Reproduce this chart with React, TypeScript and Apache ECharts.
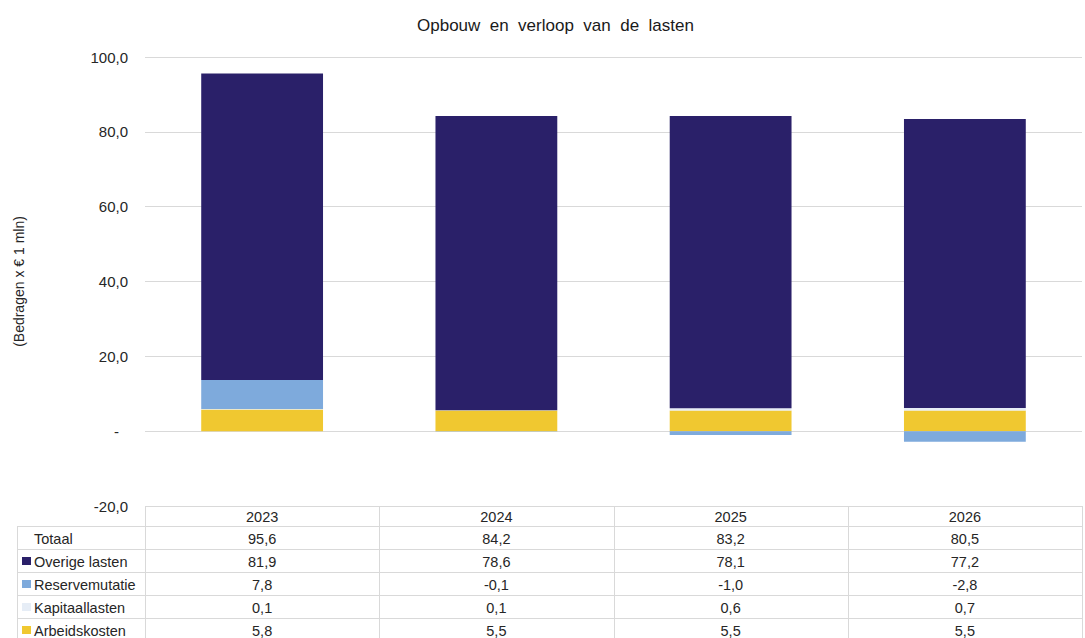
import React, { useEffect, useRef } from "react";
import * as echarts from "echarts";

const categories = ["2023", "2024", "2025", "2026"];
const overigeLasten = [81.9, 78.6, 78.1, 77.2];
const reservemutatie = [7.8, -0.1, -1.0, -2.8];
const kapitaallasten = [0.1, 0.1, 0.6, 0.7];
const arbeidskosten = [5.8, 5.5, 5.5, 5.5];
const totaal = [95.6, 84.2, 83.2, 80.5];

const W = 1085;
const H = 638;
const GRID_LEFT = 145;
const GRID_RIGHT = 3;
const GRID_TOP = 57;
const GRID_BOTTOM_Y = 506;

const COLORS = {
  overige: "#2a2069",
  reserve: "#7eaadc",
  kapitaal: "#e6edf6",
  arbeid: "#f0c830",
};

const FONT = "'Liberation Sans', Arial, sans-serif";
const TEXT_COLOR = "#262626";
const LINE_COLOR = "#d9d9d9";

const fmt = (v: number) => v.toFixed(1).replace(".", ",");

export default function App() {
  const ref = useRef<HTMLDivElement>(null);
  useEffect(() => {
    if (!ref.current) return;
    const chart = echarts.init(ref.current, undefined, { renderer: "svg" });

    const plotW = W - GRID_LEFT - GRID_RIGHT;
    const colW = plotW / categories.length;
    const headerTop = GRID_BOTTOM_Y;
    const headerBottom = 526;
    const rowH = 23;
    const rows = [
      { name: "Totaal", color: null as string | null, values: totaal },
      { name: "Overige lasten", color: COLORS.overige, values: overigeLasten },
      { name: "Reservemutatie", color: COLORS.reserve, values: reservemutatie },
      { name: "Kapitaallasten", color: COLORS.kapitaal, values: kapitaallasten },
      { name: "Arbeidskosten", color: COLORS.arbeid, values: arbeidskosten },
    ];

    const g: any[] = [];
    const line = (x1: number, y1: number, x2: number, y2: number) =>
      g.push({
        type: "line",
        shape: { x1, y1, x2, y2 },
        style: { stroke: LINE_COLOR, lineWidth: 1 },
        silent: true,
      });
    line(GRID_LEFT, headerTop + 0.5, W - GRID_RIGHT, headerTop + 0.5);
    for (let i = 0; i < rows.length; i++) {
      const y = headerBottom + i * rowH + 0.5;
      line(17, y, W - GRID_RIGHT, y);
    }
    for (let i = 0; i <= categories.length; i++) {
      const x = Math.round(GRID_LEFT + i * colW) + 0.5;
      line(x, headerTop, x, H);
    }
    line(17.5, headerBottom, 17.5, H);

    const tableFont = `14.5px ${FONT}`;

    categories.forEach((c, i) => {
      g.push({
        type: "text",
        x: GRID_LEFT + (i + 0.5) * colW,
        y: (headerTop + headerBottom) / 2 + 1,
        style: {
          text: c,
          font: tableFont,
          fill: TEXT_COLOR,
          align: "center",
          verticalAlign: "middle",
        },
        silent: true,
      });
    });

    rows.forEach((r, ri) => {
      const cy = headerBottom + ri * rowH + rowH / 2 + 1;
      if (r.color) {
        g.push({
          type: "rect",
          shape: { x: 22, y: cy - 4.5, width: 9, height: 8 },
          style: { fill: r.color },
          silent: true,
        });
      }
      g.push({
        type: "text",
        x: 34,
        y: cy,
        style: {
          text: r.name,
          font: tableFont,
          fill: TEXT_COLOR,
          align: "left",
          verticalAlign: "middle",
        },
        silent: true,
      });
      r.values.forEach((v, i) => {
        g.push({
          type: "text",
          x: GRID_LEFT + (i + 0.5) * colW,
          y: cy,
          style: {
            text: fmt(v),
            font: tableFont,
            fill: TEXT_COLOR,
            align: "center",
            verticalAlign: "middle",
          },
          silent: true,
        });
      });
    });

    const barSeries = (name: string, data: number[], color: string) => ({
      name,
      type: "bar",
      stack: "lasten",
      data,
      barWidth: "52%",
      itemStyle: { color },
      emphasis: { disabled: true },
    });

    chart.setOption({
      animation: false,
      backgroundColor: "#ffffff",
      title: {
        text: "Opbouw  en  verloop  van  de  lasten",
        left: 412,
        top: 12,
        textStyle: {
          fontFamily: FONT,
          fontSize: 17,
          fontWeight: "normal",
          color: "#1a1a1a",
        },
      },
      grid: {
        left: GRID_LEFT,
        right: GRID_RIGHT,
        top: GRID_TOP,
        bottom: H - GRID_BOTTOM_Y,
        containLabel: false,
      },
      xAxis: {
        type: "category",
        data: categories,
        axisLine: { show: false },
        axisTick: { show: false },
        axisLabel: { show: false },
      },
      yAxis: {
        type: "value",
        min: -20,
        max: 100,
        interval: 20,
        name: "(Bedragen x € 1 mln)",
        nameLocation: "middle",
        nameRotate: 90,
        nameGap: 119,
        nameTextStyle: { fontFamily: FONT, fontSize: 14, color: TEXT_COLOR },
        axisLine: { show: false },
        axisTick: { show: false },
        splitLine: {
          lineStyle: { color: LINE_COLOR, width: 1 },
          showMinLine: false,
        },
        axisLabel: {
          margin: 17,
          fontFamily: FONT,
          fontSize: 15,
          color: TEXT_COLOR,
          formatter: (v: number) => (v === 0 ? "{d|-}" : fmt(v)),
          rich: {
            d: { fontFamily: FONT, fontSize: 15, color: TEXT_COLOR, padding: [0, 9, 0, 0] },
          },
        },
      },
      series: [
        barSeries("Arbeidskosten", arbeidskosten, COLORS.arbeid),
        barSeries("Kapitaallasten", kapitaallasten, COLORS.kapitaal),
        barSeries("Reservemutatie", reservemutatie, COLORS.reserve),
        barSeries("Overige lasten", overigeLasten, COLORS.overige),
      ],
      graphic: { elements: g },
    });

    return () => chart.dispose();
  }, []);

  return (
    <div
      ref={ref}
      style={{ position: "fixed", left: 0, top: 0, width: W, height: H, background: "#fff" }}
    />
  );
}
